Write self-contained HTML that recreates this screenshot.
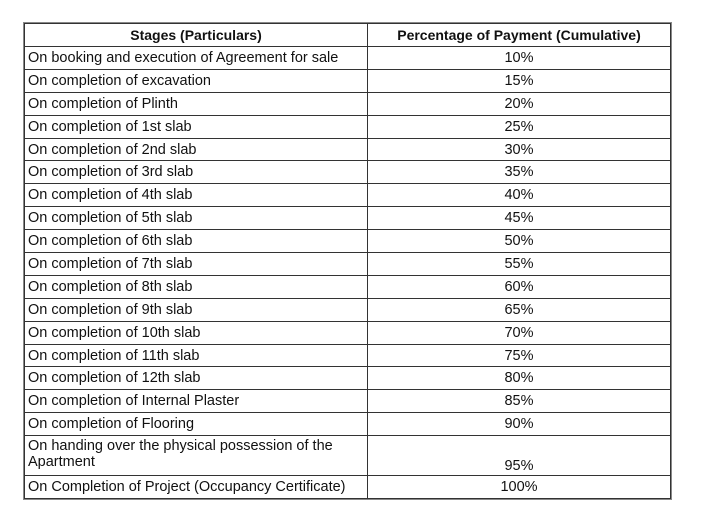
<!DOCTYPE html>
<html><head><style>
body{margin:0;background:#fff;width:720px;height:517px;overflow:hidden;font-family:"Liberation Sans",Arial,sans-serif;}
table{position:absolute;left:24px;top:23px;border-collapse:collapse;font-size:14.5px;color:#111;}
td,th{border:1px solid #333;padding:0 3px;height:21.9px;line-height:16px;}
th{font-weight:bold;text-align:center;height:22px;font-size:14px}
td:first-child{text-align:left;width:336px;}
td:last-child{text-align:center;width:296px;}
tr.t td{height:36px;vertical-align:bottom;padding-bottom:1px}
tr.t td:first-child{vertical-align:top;padding-top:2px}
table{outline:1px solid #888;}
</style></head><body>
<table>
<tr><th style="width:336px">Stages (Particulars)</th><th>Percentage of Payment (Cumulative)</th></tr>
<tr><td>On booking and execution of Agreement for sale</td><td>10%</td></tr>
<tr><td>On completion of excavation</td><td>15%</td></tr>
<tr><td>On completion of Plinth</td><td>20%</td></tr>
<tr><td>On completion of 1st slab</td><td>25%</td></tr>
<tr><td>On completion of 2nd slab</td><td>30%</td></tr>
<tr><td>On completion of 3rd slab</td><td>35%</td></tr>
<tr><td>On completion of 4th slab</td><td>40%</td></tr>
<tr><td>On completion of 5th slab</td><td>45%</td></tr>
<tr><td>On completion of 6th slab</td><td>50%</td></tr>
<tr><td>On completion of 7th slab</td><td>55%</td></tr>
<tr><td>On completion of 8th slab</td><td>60%</td></tr>
<tr><td>On completion of 9th slab</td><td>65%</td></tr>
<tr><td>On completion of 10th slab</td><td>70%</td></tr>
<tr><td>On completion of 11th slab</td><td>75%</td></tr>
<tr><td>On completion of 12th slab</td><td>80%</td></tr>
<tr><td>On completion of Internal Plaster</td><td>85%</td></tr>
<tr><td>On completion of Flooring</td><td>90%</td></tr>
<tr class="t"><td>On handing over the physical possession of the Apartment</td><td>95%</td></tr>
<tr><td>On Completion of Project (Occupancy Certificate)</td><td>100%</td></tr>
</table>
</body></html>
